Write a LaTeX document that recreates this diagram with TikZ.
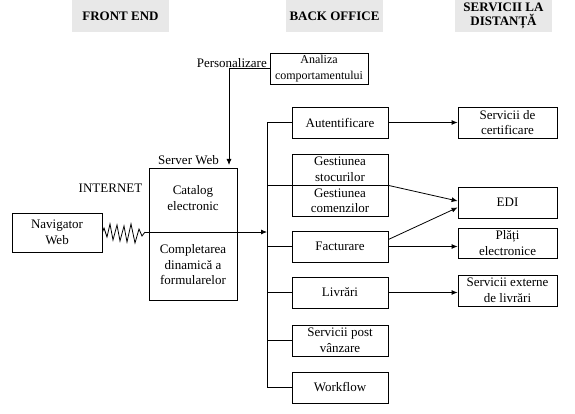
\documentclass[tikz,border=0pt]{standalone}
\usepackage{fontspec}
\setmainfont{Liberation Serif}
\usetikzlibrary{arrows.meta,calc}
\definecolor{hdrgray}{HTML}{E8E8E8}
\begin{document}
\begin{tikzpicture}[x=1pt,y=-1pt,
 every node/.style={font=\fontsize{13}{15.5}\selectfont},
 box/.style={draw,line width=0.8pt,inner sep=0pt,align=center,minimum height=31pt},
 bo/.style={box,minimum width=96pt},
 rs/.style={box,minimum width=99pt},
 lbl/.style={inner sep=0pt,align=center},
 hdr/.style={fill=hdrgray,inner sep=0pt,minimum width=97pt,minimum height=32pt,align=center,font=\bfseries\fontsize{13}{14}\selectfont},
 conn/.style={line width=0.8pt},
 arr/.style={conn,-{Latex[length=6pt,width=5pt]}}]
\useasboundingbox (0,0) rectangle (575,414);

% headers
\node[hdr] (h1) at (120.5,16) {FRONT END};
\node[hdr] (h2) at (334.5,16) {BACK OFFICE};
\node[hdr] (h3) at (503.5,16) {SERVICII LA\\DISTANȚĂ};

% front end
\node[box,minimum width=90pt,minimum height=39pt] (nav) at (57,232.5) {Navigator\\Web};
\node[box,minimum width=88pt,minimum height=132pt] (srv) at (193,234) {};
\node[lbl] (cat) at (193,198) {Catalog\\electronic};
\node[lbl] (cdf) at (193,265) {Completarea\\dinamică a\\formularelor};
\node[lbl] (svw) at (188.5,160) {Server Web};
\node[lbl] (inet) at (110.5,188) {INTERNET};

% analiza
\node[box,minimum width=98pt,font=\fontsize{12}{15.5}\selectfont] (ana) at (319,68.5) {Analiza\\comportamentului};
\node[lbl,anchor=east] (pers) at (267,63) {Personalizare};

% back office
\node[bo] (aut) at (340,122.5) {Autentificare};
\node[bo] (stoc) at (340,169.5) {Gestiunea\\stocurilor};
\node[bo] (com) at (340,201) {Gestiunea\\comenzilor};
\node[bo] (fact) at (340,246.5) {Facturare};
\node[bo] (livr) at (340,292.5) {Livrări};
\node[bo] (post) at (340,340.5) {Servicii post\\vânzare};
\node[bo] (work) at (340,387.5) {Workflow};

% remote services
\node[rs] (cert) at (507.5,122.5) {Servicii de\\certificare};
\node[rs] (edi) at (507.5,202.5) {EDI};
\node[rs,minimum height=30pt] (plati) at (507.5,243) {Plăți\\electronice};
\node[rs] (ext) at (507.5,290.5) {Servicii externe\\de livrări};

% coordinates
\coordinate (bx) at (267,0);
\coordinate (zz) at (145,232);
\coordinate (svtop) at (229,165);

% zigzag internet link
\draw[conn] (nav.east) -- (104,228) -- (107,237) -- (110,224) -- (113,240) -- (117,225)
  -- (120,241) -- (124,226) -- (127,242) -- (131,224) -- (135,243) -- (139,229) -- (142,236) -- (zz);
\draw[arr] (zz) -- (zz -| bx);

% personalisation link
\draw[arr] (ana.west) -| (svtop);

% bus
\draw[conn] (aut.west) -- (aut.west -| bx) -- (work.west -| bx) -- (work.west);
\draw[conn] (fact.west -| bx) -- (fact.west);
\draw[conn] (livr.west -| bx) -- (livr.west);
\draw[conn] (post.west -| bx) -- (post.west);
\draw[conn] (stoc.south east -| bx) -- (stoc.south east);

% to remote services
\draw[arr] (aut.east) -- (cert.west);
\draw[arr] (stoc.south east) -- ([yshift=1.5pt]edi.west);
\draw[arr] ([yshift=7pt]fact.east) -- ([yshift=-5pt]edi.west);
\draw[arr] (fact.east) -- (fact.east -| plati.west);
\draw[arr] (livr.east) -- (livr.east -| ext.west);
\end{tikzpicture}
\end{document}
